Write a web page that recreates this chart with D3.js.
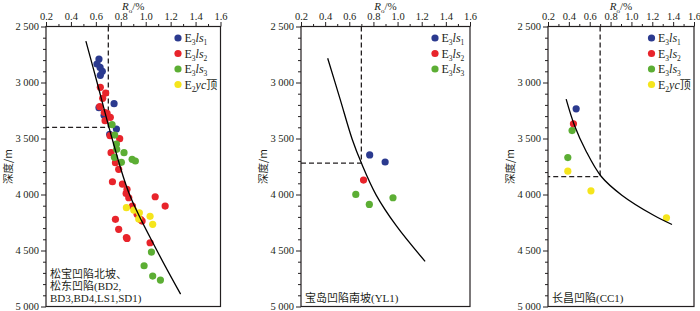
<!DOCTYPE html>
<html>
<head>
<meta charset="utf-8">
<script src="https://cdn.jsdelivr.net/npm/d3@7"></script>
<style>
  body { margin: 0; background: #fff; }
  svg { display: block; font-family: "Liberation Serif", "Times New Roman", serif; }
</style>
</head>
<body>
<div id="chart"></div>
<script>
// axis ticks
const roTicks = [0.2, 0.4, 0.6, 0.8, 1.0, 1.2, 1.4, 1.6];
const depthTicks = [2500, 3000, 3500, 4000, 4500, 5000];

// panel 1: 松宝凹陷北坡、松东凹陷  [Ro, depth]
const p1Ls1 = [[0.625, 2790], [0.609, 2835], [0.634, 2865], [0.652, 2900], [0.636, 2936],
  [0.746, 3189], [0.625, 3225], [0.666, 3293], [0.765, 3415], [0.711, 3463]];
const p1Ls2 = [[0.636, 3043], [0.679, 3094], [0.655, 3141], [0.631, 3216], [0.668, 3266],
  [0.69, 3275], [0.716, 3311], [0.674, 3341], [0.714, 3475], [0.791, 3502], [0.722, 3627],
  [0.757, 3716], [0.783, 3775], [0.733, 3886], [0.813, 3907], [0.85, 3954], [0.843, 3990],
  [0.864, 4029], [1.076, 4020], [1.156, 4103], [0.893, 4103], [0.931, 4177], [0.971, 4237],
  [0.96, 4225], [0.757, 4222], [0.783, 4311], [0.85, 4392], [0.845, 4385], [1.035, 4431]];
const p1Ls3 = [[0.73, 3377], [0.751, 3469], [0.765, 3549], [0.767, 3597], [0.826, 3627],
  [0.749, 3668], [0.891, 3686], [0.917, 3701], [0.805, 3713], [1.046, 4514], [0.987, 4636],
  [1.056, 4728], [1.118, 4764]];
const p1Yc = [[0.845, 4118], [0.904, 4139], [0.949, 4163], [0.944, 4219], [1.035, 4195], [1.056, 4266]];
const p1Curve = [[0.52, 2630], [0.61, 3000], [0.73, 3500], [0.87, 4000], [1.09, 4500], [1.28, 4890]];

// panel 2: 宝岛凹陷南坡(YL1)
const p2Ls1 = [[0.769, 3647], [0.897, 3710]];
const p2Ls2 = [[0.718, 3871]];
const p2Ls3 = [[0.654, 3999], [0.766, 4089], [0.962, 4029]];
const p2Curve = [[0.421, 2783], [0.524, 3148], [0.624, 3506], [0.702, 3724], [0.823, 4005], [0.992, 4283], [1.228, 4597]];

// panel 3: 长昌凹陷(CC1)
const p3Ls1 = [[0.47, 3235]];
const p3Ls2 = [[0.444, 3369]];
const p3Ls3 = [[0.431, 3429], [0.39, 3670]];
const p3Yc = [[0.39, 3792], [0.612, 3967], [1.336, 4208]];
const p3Curve = [[0.374, 3149], [0.454, 3384], [0.562, 3607], [0.709, 3837], [0.908, 4006], [1.217, 4188], [1.389, 4268]];

// Ro = 0.7 cut-off and its depth
const cutRo = [0.7, 0.7, 0.7];
const cutDepth = [3400, 3720, 3840];

const notes = [
  ["松宝凹陷北坡、", "松东凹陷(BD2,", "BD3,BD4,LS1,SD1)"],
  ["宝岛凹陷南坡(YL1)"],
  ["长昌凹陷(CC1)"]
];

const colors = { ls1: "#2b3a8f", ls2: "#e8242b", ls3: "#5cae34", yc: "#f5e51c" };

const panels = [
  { left: 46, right: 220.5, legendX: 178, series: { ls1: p1Ls1, ls2: p1Ls2, ls3: p1Ls3, yc: p1Yc }, curve: p1Curve, legend: ["ls1", "ls2", "ls3", "yc"] },
  { left: 301, right: 470, legendX: 435, series: { ls1: p2Ls1, ls2: p2Ls2, ls3: p2Ls3 }, curve: p2Curve, legend: ["ls1", "ls2", "ls3"] },
  { left: 548, right: 694, legendX: 651.5, series: { ls1: p3Ls1, ls2: p3Ls2, ls3: p3Ls3, yc: p3Yc }, curve: p3Curve, legend: ["ls1", "ls2", "ls3", "yc"] }
];

const plotTop = 26.5, plotBottom = 306.5;
const ink = "#231f20";

const svg = d3.select("#chart").append("svg")
  .attr("width", 700)
  .attr("height", 311);

const fmtDepth = d => d3.format(",")(d).replace(",", " ");

function legendText(text, key) {
  const isYc = key === "yc";
  text.append("tspan").text("E");
  text.append("tspan").attr("font-size", "7.5px").attr("dy", 3).text(isYc ? "2" : "3");
  text.append("tspan").attr("dy", -3).attr("font-style", "italic").text(isYc ? "yc" : "ls");
  if (isYc) {
    text.append("tspan").text("顶").style("font-family", "'Noto Sans CJK SC'").attr("font-size", "11px");
  } else {
    text.append("tspan").attr("font-size", "7.5px").attr("dy", 3).text(key.slice(2));
  }
}

panels.forEach((p, i) => {
  const x = d3.scaleLinear().domain([0.2, 1.6]).range([p.left, p.right]);
  const y = d3.scaleLinear().domain([2500, 5000]).range([plotTop, plotBottom]);
  const g = svg.append("g");

  // minor ticks
  g.append("g")
    .attr("transform", `translate(0,${plotTop})`)
    .call(d3.axisTop(x).tickValues(d3.range(0.3, 1.6, 0.2)).tickSize(2.5).tickFormat(""))
    .call(a => a.select(".domain").remove());
  g.append("g")
    .attr("transform", `translate(${p.left},0)`)
    .call(d3.axisLeft(y).tickValues(d3.range(2600, 5000, 100).filter(v => v % 500)).tickSize(3).tickFormat(""))
    .call(a => a.select(".domain").remove());

  // major ticks
  g.append("g")
    .attr("transform", `translate(0,${plotTop})`)
    .call(d3.axisTop(x).tickValues(roTicks).tickSize(4.5).tickPadding(2).tickFormat(d3.format(".1f")))
    .call(a => a.select(".domain").remove())
    .style("font-size", "10.5px");
  g.append("g")
    .attr("transform", `translate(${p.left},0)`)
    .call(d3.axisLeft(y).tickValues(depthTicks).tickSize(5).tickPadding(2).tickFormat(fmtDepth))
    .call(a => a.select(".domain").remove())
    .style("font-size", "10.5px");

  g.selectAll(".tick line").attr("stroke", ink).attr("stroke-width", 1);
  g.selectAll(".tick text").attr("fill", ink).style("font-family", "'Liberation Serif', serif");

  // frame
  g.append("rect")
    .attr("x", p.left).attr("y", plotTop)
    .attr("width", p.right - p.left).attr("height", plotBottom - plotTop)
    .attr("fill", "none").attr("stroke", ink).attr("stroke-width", 1.2);

  // axis titles
  const t = g.append("text")
    .attr("x", (p.left + p.right) / 2).attr("y", 10)
    .attr("text-anchor", "middle").attr("font-size", "11px").attr("fill", ink);
  t.append("tspan").attr("font-style", "italic").text("R");
  t.append("tspan").attr("font-size", "7px").attr("dy", 2.5).text("o");
  t.append("tspan").attr("dy", -2.5).text("/%");

  g.append("text")
    .attr("transform", `translate(${p.left - 38},${(plotTop + plotBottom) / 2}) rotate(-90)`)
    .attr("text-anchor", "middle").attr("dy", "0.35em")
    .attr("font-size", "10.5px").attr("fill", ink)
    .style("font-family", "'Noto Sans CJK SC', sans-serif")
    .text("深度/m");

  // cut-off dashed lines
  g.append("path")
    .attr("d", `M${x(cutRo[i])},${plotTop}V${y(cutDepth[i])}H${p.left}`)
    .attr("fill", "none").attr("stroke", ink).attr("stroke-width", 1.3)
    .attr("stroke-dasharray", "5,3");

  // points
  Object.entries(p.series).forEach(([key, pts]) => {
    g.append("g").selectAll("circle")
      .data(pts)
      .join("circle")
      .attr("cx", d => x(d[0]))
      .attr("cy", d => y(d[1]))
      .attr("r", 3.6)
      .attr("fill", colors[key]);
  });

  // trend curve
  g.append("path")
    .datum(p.curve)
    .attr("d", d3.line().x(d => x(d[0])).y(d => y(d[1])).curve(d3.curveCatmullRom))
    .attr("fill", "none").attr("stroke", "#000").attr("stroke-width", 1.3);

  // legend
  p.legend.forEach((key, j) => {
    const ly = 38 + j * 15.5;
    g.append("circle").attr("cx", p.legendX).attr("cy", ly).attr("r", 3.6).attr("fill", colors[key]);
    const lt = g.append("text")
      .attr("x", p.legendX + 6.5).attr("y", ly + 4)
      .attr("font-size", "12px").attr("fill", ink);
    legendText(lt, key);
  });

  // basin note
  const lines = notes[i];
  lines.forEach((line, j) => {
    g.append("text")
      .attr("x", p.left + 4)
      .attr("y", plotBottom - 5 - (lines.length - 1 - j) * 11.8)
      .attr("font-size", "11px").attr("fill", ink)
      .style("font-family", "'Liberation Serif', 'Noto Sans CJK SC', serif")
      .text(line);
  });
});
</script>
</body>
</html>
